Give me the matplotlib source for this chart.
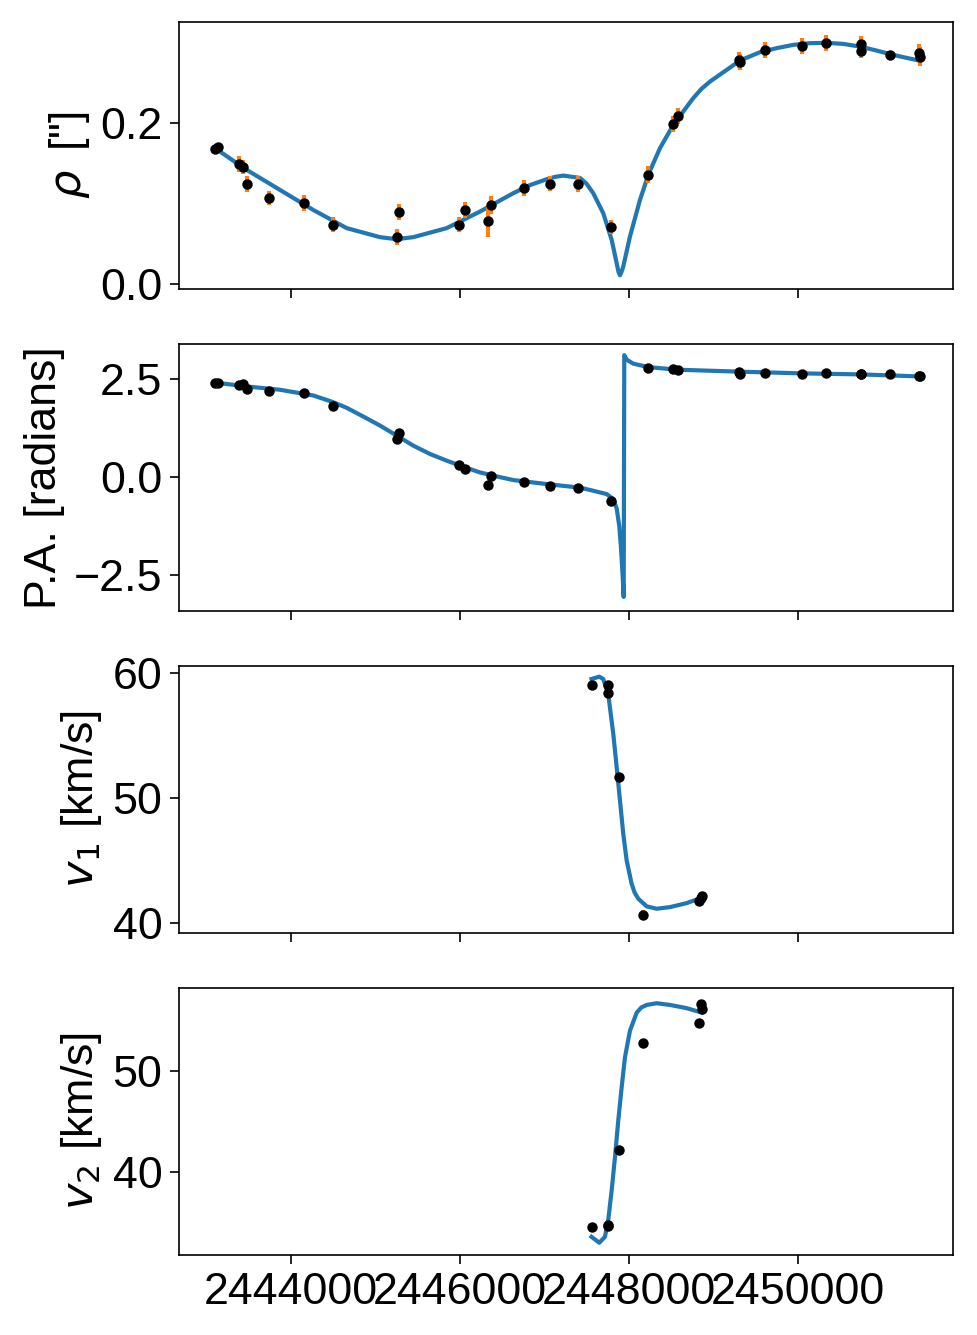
import numpy as np
import matplotlib
matplotlib.use("Agg")
import matplotlib.pyplot as plt

plt.rcParams['font.family'] = ['Liberation Sans', 'DejaVu Sans']
plt.rcParams['font.size'] = 21.5

# astrometry
t_ast = [2443110, 2443134, 2443392, 2443432, 2443483, 2443743, 2444157, 2444501,
         2445258, 2445282, 2445995, 2446063, 2446338, 2446370, 2446764, 2447069,
         2447400, 2447790, 2448232, 2448521, 2448583, 2449300, 2449318, 2449616,
         2450054, 2450335, 2450749, 2450751, 2451097, 2451438, 2451442]
rho = [0.1675, 0.1699, 0.1494, 0.1457, 0.1246, 0.1068, 0.1010, 0.0737,
       0.0591, 0.0898, 0.0737, 0.0923, 0.0786, 0.0985, 0.1193, 0.1246,
       0.1246, 0.0708, 0.1361, 0.1991, 0.2087, 0.2785, 0.2765, 0.2911,
       0.2957, 0.2994, 0.2985, 0.2902, 0.2848, 0.2870, 0.2827]
rho_err = [0.004, 0.004, 0.010, 0.009, 0.0095, 0.0087, 0.0099, 0.0095,
           0.0099, 0.0099, 0.0095, 0.010, 0.0195, 0.011, 0.0099, 0.0093,
           0.010, 0.009, 0.0104, 0.0104, 0.010, 0.010, 0.010, 0.010,
           0.0097, 0.0097, 0.010, 0.0091, 0.005, 0.0115, 0.0115]
theta = [2.398, 2.402, 2.329, 2.355, 2.235, 2.194, 2.125, 1.811,
         0.959, 1.122, 0.314, 0.204, -0.214, 0.015, -0.120, -0.222,
         -0.273, -0.612, 2.763, 2.745, 2.712, 2.679, 2.610, 2.653,
         2.628, 2.653, 2.628, 2.630, 2.610, 2.566, 2.570]
theta_err = [0.01] * len(theta)

# radial velocities
t_rv = [2447569, 2447751, 2447758, 2447889, 2448173, 2448835, 2448852, 2448864]
v1 = [59.10, 59.10, 58.43, 51.71, 40.67, 41.80, 42.00, 42.20]
v1_err = [0.2, 0.2, 0.2, 0.2, 0.35, 0.2, 0.2, 0.2]
v2 = [34.55, 34.62, 34.70, 42.22, 52.81, 54.85, 56.73, 56.18]
v2_err = [0.2, 0.2, 0.2, 0.2, 0.4, 0.2, 0.2, 0.2]

# model curves
tm_rho = [2443116, 2443479, 2443873, 2444267, 2444663, 2445057, 2445254, 2445451,
          2445846, 2446240, 2446634, 2446830, 2447030, 2447130, 2447226, 2447424,
          2447500, 2447581, 2447699, 2447799, 2447858, 2447880, 2447897, 2447915,
          2447936, 2448015, 2448134, 2448232, 2448370, 2448528, 2448764, 2448860,
          2448962, 2449160, 2449317, 2449554, 2449751, 2449948, 2450145, 2450343,
          2450539, 2450737, 2450935, 2451131, 2451435]
m_rho = [0.1681, 0.1420, 0.1171, 0.0922, 0.0696, 0.0584, 0.0559, 0.0584,
         0.0696, 0.0902, 0.1130, 0.1230, 0.1304, 0.1333, 0.1349, 0.1320,
         0.1250, 0.1130, 0.0882, 0.0550, 0.0261, 0.0150, 0.0110, 0.0150,
         0.0219, 0.0591, 0.1047, 0.1358, 0.1689, 0.1979, 0.2311, 0.2425,
         0.2517, 0.2662, 0.2778, 0.2882, 0.2932, 0.2973, 0.2994, 0.2998,
         0.2985, 0.2952, 0.2902, 0.2848, 0.2778]

tm_pa = [2443116, 2443479, 2443873, 2444267, 2444504, 2444663, 2444859, 2445057,
         2445254, 2445451, 2445648, 2445846, 2446043, 2446240, 2446438, 2446634,
         2447030, 2447424, 2447581, 2447740, 2447818, 2447858, 2447889, 2447909,
         2447927, 2447941, 2447948, 2447976, 2448054, 2448232, 2448568, 2449317,
         2450066, 2450737, 2451435]
m_pa = [2.398, 2.304, 2.219, 2.074, 1.903, 1.760, 1.538, 1.309,
        1.054, 0.798, 0.587, 0.416, 0.263, 0.117, 0.015, -0.077,
        -0.179, -0.270, -0.349, -0.434, -0.560, -0.800, -1.250, -1.800,
        -2.450, -3.050, 3.100, 2.985, 2.883, 2.796, 2.730, 2.679,
        2.635, 2.610, 2.559]

tm_v1 = [2447560, 2447652, 2447699, 2447758, 2447818, 2447858, 2447897, 2447936,
         2447976, 2448035, 2448070, 2448114, 2448213, 2448331, 2448489, 2448686,
         2448864]
m_v1 = [59.55, 59.74, 59.55, 58.35, 55.15, 52.48, 49.82, 47.15,
        45.02, 43.15, 42.45, 41.95, 41.34, 41.15, 41.28, 41.60,
        42.03]

tm_v2 = [2447560, 2447652, 2447719, 2447758, 2447799, 2447838, 2447877, 2447917,
         2447956, 2448015, 2448095, 2448150, 2448213, 2448331, 2448489, 2448686,
         2448864]
m_v2 = [33.56, 32.97, 33.56, 35.22, 38.19, 41.49, 45.12, 48.42,
        51.39, 54.03, 55.84, 56.35, 56.60, 56.77, 56.60, 56.28,
        55.84]

fig, ax = plt.subplots(4, 1, sharex=True, figsize=(977/150, 1335/150), dpi=150)
fig.subplots_adjust(left=0.1832, right=0.9754, top=0.9837, bottom=0.0599, hspace=0.204)

panels = [(t_ast, rho, rho_err, tm_rho, m_rho),
          (t_ast, theta, theta_err, tm_pa, m_pa),
          (t_rv, v1, v1_err, tm_v1, m_v1),
          (t_rv, v2, v2_err, tm_v2, m_v2)]
for a, (t, y, e, tm, m) in zip(ax, panels):
    a.plot(tm, m, color='C0', lw=2, zorder=1)
    a.errorbar(t, y, yerr=e, fmt='none', ecolor='C1', elinewidth=2, zorder=2)
    a.plot(t, y, 'o', color='k', ms=4, mew=1, zorder=3)
    a.tick_params(length=4.5)

ax[0].set_ylabel(r'$\rho\,$ ["]')
ax[1].set_ylabel('P.A. [radians]')
ax[2].set_ylabel(r'$v_1$ [km/s]')
ax[3].set_ylabel(r'$v_2$ [km/s]')

ax[0].set_ylim(-0.0062, 0.326)
ax[1].set_ylim(-3.41, 3.39)
ax[2].set_ylim(39.2, 60.62)
ax[3].set_ylim(31.75, 58.32)
ax[0].set_yticks([0.0, 0.2])
ax[1].set_yticks([-2.5, 0.0, 2.5])
ax[2].set_yticks([40, 50, 60])
ax[3].set_yticks([40, 50])
ax[3].set_xlim(2442678, 2451838)
ax[3].set_xticks([2444000, 2446000, 2448000, 2450000])
ax[3].ticklabel_format(axis='x', useOffset=False, style='plain')

fig.savefig('out.png', dpi=150)
